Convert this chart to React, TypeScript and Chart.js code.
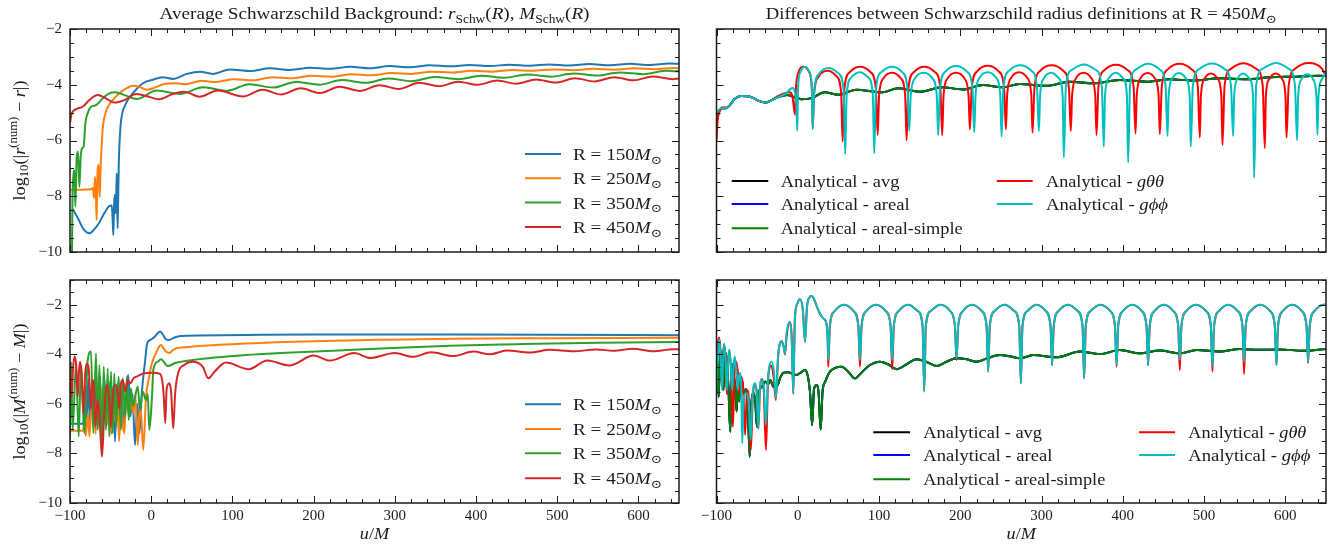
import React, { useEffect, useRef } from 'react';
import { Chart, registerables } from 'chart.js';
Chart.register(...registerables);

const W = 1336;
const H = 546;
const X_RANGE = [-100, 650];
const X_TICKS = [-100, 0, 100, 200, 300, 400, 500, 600];
const X_MINOR_STEP = 20;
const Y_TICKS = [-10, -8, -6, -4, -2];
const Y_MINOR_STEP = 0.5;
const Y_MIN = -10;
const Y_MAX_TOP = -2;
const Y_MAX_BOTTOM = -1;

const TAB = ['#1f77b4', '#ff7f0e', '#2ca02c', '#d62728'];
const RIGHT_COLORS = ['#000000', '#0000ff', '#008000', '#ff0000', '#00bfbf'];
const R_VALUES = ['150', '250', '350', '450'];
const METHODS = ['avg', 'areal', 'areal-simple', 'gθθ', 'gϕϕ'];

// ---------- top-left: log10(|r_num - r|) ----------
const TL_BLUE = [[-97,-8.45],[-90,-8.8],[-84,-9.15],[-76,-9.33],[-70,-9.18],[-64,-8.95],[-58,-8.62],[-52,-8.36],[-48.5,-8.33],[-47.4,-8.9],[-46.6,-9.39],[-45.7,-8.3],[-44.9,-7.95],[-44.2,-8.6],[-43.4,-8.5],[-42.5,-7.18],[-41.9,-8.2],[-41.3,-9.15],[-40.6,-8.0],[-39.9,-6.81],[-37.8,-5.5],[-35.5,-5.0],[-33,-4.79],[-28,-4.5],[-22.8,-4.31],[-15,-4.06],[-6.4,-3.89],[0.5,-3.83],[14,-3.73],[27,-3.79],[44,-3.61],[60,-3.53],[76,-3.61],[97,-3.45],[122,-3.51],[146,-3.41],[171,-3.47],[196,-3.39],[220,-3.43],[245,-3.35],[269,-3.41],[294,-3.33],[319,-3.37],[343,-3.3],[368,-3.34],[392,-3.29],[417,-3.33],[441,-3.28],[466,-3.32],[490,-3.27],[515,-3.31],[540,-3.26],[565,-3.3],[590,-3.25],[614,-3.29],[638,-3.24],[650,-3.25]];
const TL_ORANGE = [[-98.8,-7.78],[-90,-7.77],[-80,-7.76],[-73.5,-7.74],[-71.8,-7.7],[-70.4,-8.07],[-69.2,-7.3],[-68,-8.0],[-67.2,-8.85],[-66,-7.06],[-64.7,-6.88],[-63.5,-8.02],[-62.3,-7.0],[-59.8,-5.62],[-55.7,-4.97],[-51,-4.68],[-47.4,-4.55],[-42,-4.38],[-37,-4.25],[-30,-4.12],[-22.8,-4.04],[-14,-4.08],[-5,-4.18],[3,-4.12],[15,-3.98],[30,-3.95],[42,-3.98],[62,-3.86],[80,-3.9],[102,-3.8],[125,-3.84],[149,-3.73],[173,-3.77],[198,-3.68],[222,-3.71],[247,-3.62],[271,-3.66],[296,-3.58],[320,-3.61],[345,-3.53],[370,-3.56],[395,-3.5],[420,-3.53],[445,-3.47],[470,-3.5],[495,-3.45],[520,-3.48],[545,-3.43],[570,-3.46],[595,-3.41],[620,-3.44],[645,-3.4],[650,-3.41]];
const TL_GREEN = [[-97.6,-10.2],[-97,-8.2],[-95.9,-7.3],[-94.7,-7.06],[-93.4,-8.37],[-91.7,-6.58],[-90.1,-6.4],[-88.5,-7.66],[-86.8,-6.58],[-85.2,-6.28],[-83.2,-6.22],[-81.1,-5.38],[-78.2,-5.02],[-74.1,-4.79],[-68,-4.73],[-59.8,-4.49],[-51.6,-4.31],[-44.6,-4.27],[-32,-4.38],[-17.9,-4.51],[6.8,-4.21],[35.5,-4.33],[64,-4.09],[93,-4.22],[121,-3.98],[150,-4.1],[178,-3.9],[207,-4.0],[235,-3.83],[264,-3.93],[292,-3.78],[321,-3.87],[349,-3.72],[378,-3.8],[406,-3.68],[435,-3.75],[463,-3.63],[492,-3.71],[520,-3.6],[549,-3.67],[577,-3.56],[606,-3.62],[634,-3.5],[650,-3.52]];
const TL_RED = [[-100,-5.38],[-98.5,-5.1],[-96.7,-4.97],[-90.5,-4.85],[-84.4,-4.79],[-76.2,-4.55],[-65.9,-4.37],[-55.7,-4.49],[-45.4,-4.64],[-33.1,-4.55],[-18.7,-4.33],[-6.4,-4.4],[10,-4.52],[26.5,-4.33],[40.8,-4.25],[59.3,-4.43],[82,-4.21],[113,-4.42],[137,-4.18],[160,-4.35],[184,-4.13],[208,-4.3],[232,-4.07],[257,-4.22],[281,-4.02],[305,-4.15],[330,-3.93],[355,-4.05],[378,-3.89],[402,-4.0],[426,-3.85],[450,-3.96],[474,-3.81],[498,-3.92],[522,-3.77],[546,-3.88],[570,-3.73],[594,-3.84],[618,-3.7],[642,-3.8],[650,-3.78]];

// ---------- bottom-left: log10(|M_num - M|) ----------
const BL_BLUE = [[-100,-6.8],[-84,-6.8],[-82.5,-6.5],[-81,-5.3],[-79.5,-6.6],[-77.5,-5.0],[-75.5,-6.8],[-73,-5.1],[-71,-6.9],[-68.5,-5.0],[-66,-7.0],[-63,-4.9],[-60.5,-7.1],[-57.5,-5.0],[-55,-6.9],[-52,-5.1],[-49,-7.2],[-47,-5.3],[-44.6,-7.52],[-42,-5.2],[-39.5,-6.8],[-36.5,-5.5],[-33.5,-6.9],[-30.5,-5.3],[-28.2,-4.83],[-25.5,-6.5],[-23,-5.6],[-20,-7.66],[-17,-6.0],[-14.5,-7.2],[-11.7,-5.6],[-7.6,-4.3],[-5,-3.56],[-1,-3.42],[4,-3.3],[8,-3.15],[11,-3.08],[14,-3.18],[18,-3.39],[22,-3.42],[28,-3.33],[36,-3.26],[60,-3.24],[117,-3.22],[200,-3.2],[370,-3.2],[500,-3.21],[650,-3.23]];
const BL_ORANGE = [[-100,-7.08],[-84,-7.08],[-82,-6.6],[-80.5,-7.3],[-78,-6.4],[-76,-7.32],[-73,-5.7],[-70,-6.04],[-68.5,-7.2],[-66.5,-5.77],[-64.5,-6.6],[-62,-5.3],[-59.5,-7.0],[-57,-5.6],[-54.5,-6.8],[-52,-5.4],[-49.5,-7.2],[-47,-5.5],[-44.5,-6.7],[-42,-5.7],[-39.5,-7.5],[-37,-5.6],[-35,-6.8],[-33,-7.19],[-30.5,-5.4],[-27.5,-6.5],[-25,-5.8],[-22,-6.4],[-19.5,-5.6],[-16.6,-7.66],[-14,-6.1],[-12,-6.6],[-9.8,-7.86],[-6.4,-5.71],[-3,-5.0],[-0.2,-4.5],[3,-4.15],[5.9,-3.96],[9,-3.72],[12,-3.62],[15,-3.75],[18.2,-3.89],[22.3,-3.95],[26,-3.85],[30.5,-3.76],[45,-3.7],[59,-3.66],[117,-3.56],[200,-3.47],[290,-3.41],[370,-3.37],[500,-3.35],[650,-3.33]];
const BL_GREEN = [[-100,-7.4],[-98.8,-4.3],[-96.7,-7.05],[-92.6,-4.36],[-89.3,-7.32],[-86.5,-4.5],[-82.4,-7.19],[-78.2,-4.23],[-74.1,-3.89],[-71.3,-7.19],[-68,-3.96],[-65.9,-7.05],[-63.9,-4.43],[-60.6,-7.59],[-58.5,-4.5],[-55.7,-7.05],[-53.6,-4.57],[-51.6,-7.32],[-49.5,-4.7],[-47.4,-7.19],[-45.4,-4.77],[-43.3,-6.92],[-40.1,-4.9],[-37.2,-7.05],[-35.1,-4.97],[-31.9,-6.52],[-29.8,-4.9],[-27.7,-6.65],[-24.9,-5.37],[-22.8,-6.11],[-16.6,-5.3],[-13.8,-6.25],[-10.5,-5.5],[-6.4,-5.84],[-4.3,-5.6],[-2.3,-7.05],[1,-5.7],[2.6,-4.63],[8,-4.3],[12.1,-4.2],[20.3,-4.47],[30.5,-4.34],[51.1,-4.23],[117,-4.03],[160,-3.95],[224,-3.86],[290,-3.75],[368,-3.65],[450,-3.59],[550,-3.53],[650,-3.5]];
const BL_RED = [[-100,-4.36],[-99,-5.3],[-97.8,-5.71],[-96.5,-4.7],[-94.5,-4.09],[-92.5,-4.4],[-90.5,-5.71],[-89,-4.7],[-87.7,-4.3],[-85.8,-4.7],[-83.5,-6.38],[-81.5,-4.9],[-79.5,-4.36],[-77,-4.57],[-74.1,-6.22],[-72.1,-5.04],[-70.5,-5.3],[-68.8,-6.92],[-65.9,-5.84],[-63.9,-6.4],[-60.6,-8.13],[-57.8,-6.38],[-54.8,-5.24],[-51.6,-5.84],[-49.5,-6.92],[-47.4,-5.71],[-44.2,-5.24],[-41.5,-5.5],[-39.3,-6.18],[-37.2,-5.17],[-35.1,-5.04],[-31.9,-5.5],[-28.9,-5.04],[-26,-5.17],[-21.5,-4.95],[-17.9,-4.9],[-9.7,-4.77],[2.6,-4.74],[10.8,-4.79],[13.5,-5.04],[15.5,-5.71],[17.3,-6.78],[19,-5.4],[22.3,-5.17],[24.5,-5.5],[27.1,-6.99],[29.5,-5.57],[33,-4.77],[40.6,-4.43],[51,-4.3],[63.4,-4.5],[70.3,-4.97],[78,-4.7],[92,-4.33],[120,-4.6],[143,-4.25],[170,-4.45],[200,-4.05],[220,-4.25],[250,-3.95],[270,-4.15],[300,-3.95],[322,-4.1],[345,-3.92],[371.7,-4.07],[396.7,-3.89],[417,-4.0],[437.6,-3.85],[466.3,-3.93],[491,-3.82],[519.7,-3.88],[548.5,-3.8],[569,-3.86],[593.6,-3.77],[618.3,-3.88],[642.9,-3.79],[650,-3.8]];

// ---------- top-right: radius definitions ----------
const TR_SMOOTH = [[-100,-5.1],[-97,-4.92],[-93,-4.84],[-88,-4.84],[-84,-4.75],[-78,-4.52],[-70,-4.4],[-62,-4.41],[-55,-4.47],[-48,-4.58],[-40,-4.64],[-32,-4.55],[-23,-4.43],[-13,-4.37],[-4,-4.45],[5,-4.52],[17,-4.48],[33,-4.27],[50,-4.36],[72,-4.18],[103,-4.27],[124,-4.13],[150,-4.25],[178,-4.09],[203,-4.17],[228,-4.01],[252,-4.09],[273,-3.97],[306,-4.04],[335,-3.89],[363,-3.95],[396,-3.83],[429,-3.89],[458,-3.8],[486,-3.85],[519,-3.77],[552,-3.8],[581,-3.73],[614,-3.71],[642,-3.68],[650,-3.69]];
const TR_RED = [[-100,-6.0],[-98.6,-5.3],[-96,-4.95],[-93,-4.82],[-88,-4.82],[-84,-4.74],[-78,-4.52],[-70,-4.4],[-62,-4.41],[-55,-4.47],[-48,-4.58],[-40,-4.64],[-32,-4.55],[-24,-4.4],[-16,-4.3],[-10,-4.27],[-6.5,-4.42],
[-3.4,-5.08],[-2.3,-4.15],[1.0,-3.55],[7.5,-3.35],[14.0,-3.55],[17.3,-4.15],
[18.4,-5.56],[20.2,-4.3],[25.8,-3.7],[36.8,-3.5],[47.8,-3.7],[53.4,-4.3],
[55.2,-6.04],[57.4,-4.15],[63.8,-3.55],[76.8,-3.35],[89.7,-3.55],[96.1,-4.15],
[98.3,-5.8],[100.1,-4.37],[105.4,-3.77],[116.1,-3.57],[126.8,-3.77],[132.1,-4.37],
[133.9,-5.99],[136.1,-4.15],[142.7,-3.55],[155.8,-3.35],[168.9,-3.55],[175.5,-4.15],
[177.7,-5.8],[179.4,-4.37],[184.5,-3.77],[194.8,-3.57],[205.0,-3.77],[210.1,-4.37],
[211.8,-5.6],[214.0,-4.12],[220.7,-3.52],[234.0,-3.32],[247.2,-3.52],[253.9,-4.12],
[256.1,-5.6],[257.7,-4.35],[262.7,-3.75],[272.5,-3.55],[282.3,-3.75],[287.3,-4.35],
[288.9,-5.72],[291.3,-4.1],[298.3,-3.5],[312.5,-3.3],[326.6,-3.5],[333.6,-4.1],
[336.0,-5.66],[337.6,-4.37],[342.3,-3.77],[351.8,-3.57],[361.3,-3.77],[366.0,-4.37],
[367.6,-5.8],[370.0,-4.08],[377.2,-3.48],[391.6,-3.28],[406.0,-3.48],[413.2,-4.08],
[415.6,-5.75],[417.1,-4.38],[421.6,-3.78],[430.6,-3.58],[439.5,-3.78],[444.0,-4.38],
[445.5,-5.77],[448.0,-4.05],[455.3,-3.45],[470.1,-3.25],[484.9,-3.45],[492.2,-4.05],
[494.7,-5.89],[496.1,-4.4],[500.3,-3.8],[508.7,-3.6],[517.0,-3.8],[521.2,-4.4],
[522.6,-6.16],[525.2,-4.03],[533.0,-3.43],[548.7,-3.23],[564.3,-3.43],[572.1,-4.03],
[574.7,-6.28],[576.0,-4.4],[580.0,-3.8],[588.1,-3.6],[596.1,-3.8],[600.1,-4.4],
[601.4,-5.9],[604.1,-4.02],[612.3,-3.42],[628.7,-3.22],[645.0,-3.42],[650,-3.7]];
const TR_CYAN = [[-100,-5.05],[-97,-4.9],[-93,-4.84],[-88,-4.84],[-84,-4.75],[-78,-4.52],[-70,-4.4],[-62,-4.41],[-55,-4.47],[-48,-4.58],[-40,-4.64],[-32,-4.55],[-23,-4.43],[-14,-4.3],[-9,-4.15],[-6,-4.12],[-3.4,-4.3],[-1.7,-4.7],
[-0.6,-5.65],[0.3,-4.15],[3.2,-3.55],[8.9,-3.35],[14.5,-3.55],[17.4,-4.15],
[18.3,-5.6],[20.3,-4.2],[26.3,-3.6],[38.4,-3.4],[50.4,-3.6],[56.4,-4.2],
[58.4,-6.48],[60.2,-4.35],[65.5,-3.75],[76.3,-3.55],[87.0,-3.75],[92.3,-4.35],
[94.1,-6.46],[96.3,-4.15],[102.7,-3.55],[115.7,-3.35],[128.6,-3.55],[135.0,-4.15],
[137.2,-5.65],[139.0,-4.37],[144.3,-3.77],[155.0,-3.57],[165.7,-3.77],[171.0,-4.37],
[172.8,-5.8],[175.0,-4.13],[181.7,-3.53],[195.0,-3.33],[208.2,-3.53],[214.9,-4.13],
[217.1,-5.7],[218.8,-4.35],[223.8,-3.75],[234.0,-3.55],[244.1,-3.75],[249.1,-4.35],
[250.8,-5.86],[253.1,-4.1],[260.0,-3.5],[273.8,-3.3],[287.5,-3.5],[294.4,-4.1],
[296.7,-5.66],[298.2,-4.37],[302.8,-3.77],[312.1,-3.57],[321.3,-3.77],[325.9,-4.37],
[327.4,-6.61],[329.9,-4.07],[337.2,-3.47],[352.0,-3.27],[366.8,-3.47],[374.1,-4.07],
[376.6,-6.22],[378.1,-4.37],[382.6,-3.77],[391.6,-3.57],[400.5,-3.77],[405.0,-4.37],
[406.5,-6.79],[408.9,-4.05],[416.2,-3.45],[430.8,-3.25],[445.3,-3.45],[452.6,-4.05],
[455.0,-5.84],[456.4,-4.38],[460.7,-3.78],[469.3,-3.58],[477.9,-3.78],[482.2,-4.38],
[483.6,-6.22],[486.2,-4.04],[494.0,-3.44],[509.7,-3.24],[525.3,-3.44],[533.1,-4.04],
[535.7,-5.84],[537.0,-4.4],[540.9,-3.8],[548.6,-3.6],[556.3,-3.8],[560.2,-4.4],
[561.5,-7.33],[564.1,-4.02],[572.1,-3.42],[588.0,-3.22],[603.8,-3.42],[611.8,-4.02],
[614.4,-5.99],[615.7,-4.42],[619.4,-3.82],[627.0,-3.62],[634.5,-3.82],[638.2,-4.42],
[639.5,-5.8],[640.8,-4.4],[645,-3.8],[650,-3.57]];

// ---------- bottom-right: mass definitions ----------
const BR_SMOOTH = [[-100,-4.2],[-98.5,-4.6],[-97.3,-5.71],[-96,-4.3],[-94.5,-3.89],[-93,-4.3],[-91.5,-5.44],[-90,-4.2],[-88.5,-3.95],[-86.5,-4.6],[-85,-5.6],[-83,-7.12],[-81.5,-5.0],[-80,-4.4],[-78.5,-4.9],[-76.8,-5.4],[-75.2,-6.31],[-73.5,-5.0],[-72,-5.9],[-70.5,-5.0],[-68.5,-5.1],[-66.5,-5.6],[-64,-5.4],[-61.5,-6.0],[-59.2,-8.13],[-57,-6.0],[-54.5,-5.57],[-52.3,-5.9],[-50.2,-6.92],[-48,-5.6],[-44,-5.3],[-40,-5.1],[-36.5,-5.2],[-33.8,-5.04],[-30,-5.3],[-26,-5.3],[-21,-4.9],[-17.3,-4.74],[-11.5,-4.72],[-6,-4.8],[-1.4,-4.83],[3,-4.75],[8.9,-4.63],[12.5,-4.9],[15,-5.5],[17.7,-6.85],[20,-5.4],[23.2,-5.24],[25.5,-5.5],[28.2,-7.03],[30.5,-5.5],[33.8,-5.1],[39.6,-4.7],[46,-4.55],[54,-4.5],[62,-4.7],[70.4,-4.97],[78,-4.75],[88,-4.45],[101,-4.3],[111,-4.4],[121.6,-4.6],[134,-4.4],[146,-4.2],[158,-4.3],[170.8,-4.47],[183,-4.3],[195.4,-4.16],[208,-4.2],[220,-4.3],[234,-4.15],[248.7,-4.03],[261,-4.08],[273.3,-4.16],[289.7,-4.03],[318.5,-4.12],[347,-3.89],[371.7,-3.99],[396.3,-3.83],[421,-3.96],[445.5,-3.85],[470.1,-3.96],[490.7,-3.83],[519.3,-3.89],[543.9,-3.78],[568.5,-3.82],[593.1,-3.8],[621.8,-3.86],[650,-3.78]];
const BR_CYAN_EARLY = [[-100,-5.5],[-98.5,-4.2],[-96.6,-3.39],[-95,-4.0],[-93.2,-5.44],[-91.8,-4.1],[-90.4,-3.56],[-88.8,-4.2],[-87.1,-5.44],[-85.6,-4.3],[-84.2,-3.8],[-82.5,-4.4],[-80.9,-5.44],[-79.3,-4.6],[-77.6,-4.09],[-75.8,-4.6],[-73.9,-5.44],[-72.3,-4.9],[-70.8,-4.75],[-69.5,-5.4],[-68.3,-7.59],[-66.8,-5.9],[-64.8,-5.6],[-62.9,-5.57],[-60.5,-5.9],[-57.9,-7.46],[-55.5,-5.6],[-52.6,-5.17],[-50.5,-5.6],[-48.6,-6.99],[-46.6,-5.4],[-44.4,-5.04],[-41.7,-5.4],[-39.1,-6.85],[-36.5,-4.9],[-32.1,-4.3],[-29.3,-4.7],[-26.8,-5.77],[-24.3,-4.1],[-19.8,-3.49],[-17.4,-3.7],[-15.7,-3.96],[-14,-3.2],[-10.4,-2.72],[-7.5,-3.3],[-5.5,-5.57],[-3.6,-2.6],[-0.5,-1.95],[2.7,-1.78],[6.2,-2.2],[8.9,-3.49],[11.3,-2.1],[14,-1.72],[17.1,-1.65],[21,-1.85],[25,-2.2],[28,-2.4],[31.4,-2.55],[35.2,-2.75],[36.8,-3.4]];
const BR_RED_EARLY = [[-100,-4.5],[-98.5,-3.6],[-96.8,-3.32],[-95,-3.9],[-93.5,-5.3],[-92,-4.0],[-90.5,-3.6],[-88.9,-4.3],[-87.3,-5.6],[-85.7,-4.3],[-84.3,-3.85],[-82.2,-4.6],[-79.8,-6.92],[-77.5,-4.5],[-75.5,-4.3],[-73.5,-4.8],[-71.5,-5.6],[-69.5,-4.9],[-67.3,-5.3],[-64.8,-7.25],[-62.5,-5.44],[-60.2,-5.8],[-57.7,-7.86],[-55.3,-5.7],[-52.3,-5.24],[-50.3,-5.6],[-48.5,-7.0],[-46.5,-5.4],[-44.3,-5.0],[-41.8,-5.5],[-39.1,-7.86],[-36.5,-5.0],[-32.6,-4.45],[-29.8,-4.9],[-27,-5.85],[-24,-4.0],[-19.6,-3.47],[-17.3,-3.7],[-15.7,-4.0],[-13.5,-3.2],[-10,-2.7],[-7.5,-3.3],[-5.5,-5.6],[-3.6,-2.6],[-0.5,-1.95],[2.7,-1.78],[6.2,-2.2],[8.9,-3.5],[11.3,-2.1],[14,-1.72],[17.1,-1.65],[21,-1.85],[25,-2.2],[28,-2.4],[31.4,-2.55],[35.2,-2.75],[36.8,-3.4]];
const BR_ARCH_BODY = [[39.5,-2.85],[45.5,-2.25],[57,-2.0],[68.5,-2.25],[74.5,-2.85],
[78.5,-2.85],[84.5,-2.25],[96.4,-2.0],[108.2,-2.25],[114.2,-2.85],
[118.2,-2.85],[124.2,-2.25],[135.9,-2.0],[147.6,-2.25],[153.6,-2.85],
[157.6,-2.85],[163.6,-2.25],[175.5,-2.0],[187.4,-2.25],[193.4,-2.85],
[197.4,-2.85],[203.4,-2.25],[214.9,-2.0],[226.3,-2.25],[232.3,-2.85],
[236.3,-2.85],[242.3,-2.25],[254.4,-2.0],[266.5,-2.25],[272.5,-2.85],
[276.5,-2.85],[282.5,-2.25],[293.8,-2.0],[305,-2.25],[311,-2.85],
[315,-2.85],[321,-2.25],[332.7,-2.0],[344.4,-2.25],[350.4,-2.85],
[354.4,-2.85],[360.4,-2.25],[372.4,-2.0],[384.3,-2.25],[390.3,-2.85],
[394.3,-2.85],[400.3,-2.25],[411.7,-2.0],[423.1,-2.25],[429.1,-2.85],
[433.1,-2.85],[439.1,-2.25],[450.6,-2.0],[462.1,-2.25],[468.1,-2.85],
[472.1,-2.85],[478.1,-2.25],[490.2,-2.0],[502.3,-2.25],[508.3,-2.85],
[512.3,-2.85],[518.3,-2.25],[529.8,-2.0],[541.2,-2.25],[547.2,-2.85],
[551.2,-2.85],[557.2,-2.25],[569.1,-2.0],[581,-2.25],[587,-2.85],
[591,-2.85],[597,-2.25],[608.5,-2.0],[620,-2.25],[626,-2.85],
[630,-2.85],[636,-2.25],[647.5,-2.0],[650,-2.0]];
const BR_CYAN_DIPS = [[37.5,-4.23],[76.5,-4.23],[116.2,-4.23],[155.6,-5.5],[195.4,-4.16],[234.3,-4.7],[274.5,-5.17],[313,-4.43],[352.4,-4.97],[392.3,-4.43],[431.1,-4.43],[470.1,-4.23],[510.3,-4.5],[549.2,-4.3],[589,-4.43],[628,-4.3]];
const BR_RED_DIPS = [[37.5,-4.5],[76.5,-4.5],[116.2,-4.6],[155.6,-5.5],[195.4,-4.23],[234.3,-4.7],[274.5,-5.17],[313,-4.43],[352.4,-4.97],[392.3,-4.5],[431.1,-4.43],[470.1,-4.63],[510.3,-4.7],[549.2,-4.79],[589,-4.43],[628,-4.35]];

const byX = (a: number[], b: number[]) => a[0] - b[0];
const BR_CYAN = [...BR_CYAN_EARLY, ...BR_ARCH_BODY, ...BR_CYAN_DIPS].sort(byX);
const BR_RED = [...BR_RED_EARLY, ...BR_ARCH_BODY, ...BR_RED_DIPS].sort(byX);

// ---------- text helpers ----------
type Seg = { t: string; it?: boolean; sub?: boolean; sup?: boolean };
const SERIF = '"Liberation Serif", "DejaVu Serif", serif';
const INK = '#1a1a1a';
const TXT = 17;
const TICK_SIZE = 15;

function segFont(s: Seg, size: number) {
  const sz = s.sub || s.sup ? size * 0.7 : size;
  return `${s.it ? 'italic ' : ''}${sz}px ${SERIF}`;
}
function measureRich(ctx: CanvasRenderingContext2D, segs: Seg[], size: number) {
  let w = 0;
  for (const s of segs) { ctx.font = segFont(s, size); w += ctx.measureText(s.t).width; }
  return w;
}
function drawRich(ctx: CanvasRenderingContext2D, segs: Seg[], x: number, y: number, size: number,
  o: { align?: 'left' | 'center'; width?: number; sx?: number } = {}) {
  const nat = measureRich(ctx, segs, size);
  const sx = o.width ? o.width / nat : (o.sx ?? 1.07);
  const total = nat * sx;
  const start = o.align === 'center' ? x - total / 2 : x;
  ctx.save();
  ctx.translate(start, y);
  ctx.scale(sx, 1);
  ctx.fillStyle = INK;
  ctx.textAlign = 'left';
  ctx.textBaseline = 'alphabetic';
  let cx = 0;
  for (const s of segs) {
    ctx.font = segFont(s, size);
    const dy = s.sub ? size * 0.22 : s.sup ? -size * 0.42 : 0;
    ctx.fillText(s.t, cx, dy);
    cx += ctx.measureText(s.t).width;
  }
  ctx.restore();
}

const TITLE_LEFT: Seg[] = [{ t: 'Average Schwarzschild Background: ' }, { t: 'r', it: true }, { t: 'Schw', sub: true }, { t: '(' }, { t: 'R', it: true }, { t: '), ' }, { t: 'M', it: true }, { t: 'Schw', sub: true }, { t: '(' }, { t: 'R', it: true }, { t: ')' }];
const TITLE_RIGHT: Seg[] = [{ t: 'Differences between Schwarzschild radius definitions at R = 450' }, { t: 'M', it: true }, { t: '⊙', sub: true }];
const Y_TITLE_R: Seg[] = [{ t: 'log' }, { t: '10', sub: true }, { t: '(|' }, { t: 'r', it: true }, { t: '(num)', sup: true }, { t: ' − ' }, { t: 'r', it: true }, { t: '|)' }];
const Y_TITLE_M: Seg[] = [{ t: 'log' }, { t: '10', sub: true }, { t: '(|' }, { t: 'M', it: true }, { t: '(num)', sup: true }, { t: ' − ' }, { t: 'M', it: true }, { t: '|)' }];
const X_TITLE: Seg[] = [{ t: 'u', it: true }, { t: '/' }, { t: 'M', it: true }];

const rLabel = (r: string): Seg[] => [{ t: `R = ${r}` }, { t: 'M', it: true }, { t: '⊙', sub: true }];
const mLabel = (m: string): Seg[] => m.startsWith('g')
  ? [{ t: 'Analytical - ' }, { t: m, it: true }]
  : [{ t: `Analytical - ${m}` }];
const M_WIDTHS = [118.7, 129, 182, 118, 122];

type LegendEntry = { color: string; segs: Seg[]; x1: number; x2: number; tx: number; y: number; width: number };
type Panel = {
  key: string; area: { l: number; t: number; r: number; b: number }; yMax: number;
  xLabels: boolean; yLabels: boolean; series: { data: number[][]; color: string }[];
  title?: { segs: Seg[]; x: number; width: number };
  yTitle?: { segs: Seg[]; y: number };
  legend: LegendEntry[];
};

const leftLegend = (ys: number[]): LegendEntry[] => R_VALUES.map((r, i) => ({ color: TAB[i], segs: rLabel(r), x1: 525, x2: 561, tx: 573, y: ys[i], width: 89 }));
const rightLegend = (c1: number[], c2: number[], ys: number[]): LegendEntry[] => METHODS.map((m, i) => {
  const c = i < 3 ? c1 : c2;
  return { color: RIGHT_COLORS[i], segs: mLabel(m), x1: c[0], x2: c[1], tx: c[2], y: ys[i < 3 ? i : i - 3], width: M_WIDTHS[i] };
});

const PANELS: Panel[] = [
  {
    key: 'tl', area: { l: 70, t: 29, r: 679, b: 252 }, yMax: Y_MAX_TOP, xLabels: false, yLabels: true,
    series: [TL_BLUE, TL_ORANGE, TL_GREEN, TL_RED].map((d, i) => ({ data: d, color: TAB[i] })),
    title: { segs: TITLE_LEFT, x: 374.5, width: 430 },
    yTitle: { segs: Y_TITLE_R, y: 140.5 },
    legend: leftLegend([154, 178.3, 202.5, 227]),
  },
  {
    key: 'tr', area: { l: 716.5, t: 29, r: 1326, b: 252 }, yMax: Y_MAX_TOP, xLabels: false, yLabels: false,
    series: [TR_SMOOTH, TR_SMOOTH, TR_SMOOTH, TR_RED, TR_CYAN].map((d, i) => ({ data: d, color: RIGHT_COLORS[i] })),
    title: { segs: TITLE_RIGHT, x: 1021.25, width: 511 },
    legend: rightLegend([731.7, 768.3, 780.7], [996.7, 1032.7, 1046], [181, 204, 228.3]),
  },
  {
    key: 'bl', area: { l: 70, t: 280, r: 679, b: 503 }, yMax: Y_MAX_BOTTOM, xLabels: true, yLabels: true,
    series: [BL_BLUE, BL_ORANGE, BL_GREEN, BL_RED].map((d, i) => ({ data: d, color: TAB[i] })),
    yTitle: { segs: Y_TITLE_M, y: 391.5 },
    legend: leftLegend([404.3, 429, 453.3, 478.3]),
  },
  {
    key: 'br', area: { l: 716.5, t: 280, r: 1326, b: 503 }, yMax: Y_MAX_BOTTOM, xLabels: true, yLabels: false,
    series: [BR_SMOOTH, BR_SMOOTH, BR_SMOOTH, BR_RED, BR_CYAN].map((d, i) => ({ data: d, color: RIGHT_COLORS[i] })),
    legend: rightLegend([873.3, 910, 923.3], [1139, 1175, 1188.3], [432.3, 455, 479.3]),
  },
];

const fmt = (v: number | string) => {
  const n = Number(v);
  return n < 0 ? '−' + Math.abs(n) : String(n);
};

function decor(p: Panel) {
  return {
    id: 'decor_' + p.key,
    afterDraw(chart: any) {
      const { ctx, chartArea: a, scales } = chart;
      const xs = scales.x, ys = scales.y;
      ctx.save();
      ctx.strokeStyle = INK;
      ctx.lineWidth = 1;
      ctx.beginPath();
      for (let v = X_RANGE[0]; v <= X_RANGE[1] + 1e-6; v += X_MINOR_STEP) {
        const len = X_TICKS.includes(v) ? 7 : 4;
        const px = Math.round(xs.getPixelForValue(v)) + 0.5;
        ctx.moveTo(px, a.bottom); ctx.lineTo(px, a.bottom - len);
        ctx.moveTo(px, a.top); ctx.lineTo(px, a.top + len);
      }
      for (let v = Y_MIN; v <= p.yMax + 1e-6; v += Y_MINOR_STEP) {
        const len = Y_TICKS.includes(v) ? 7 : 4;
        const py = Math.round(ys.getPixelForValue(v)) + 0.5;
        ctx.moveTo(a.left, py); ctx.lineTo(a.left + len, py);
        ctx.moveTo(a.right, py); ctx.lineTo(a.right - len, py);
      }
      ctx.stroke();
      ctx.lineWidth = 1.5;
      ctx.strokeRect(a.left, a.top, a.right - a.left, a.bottom - a.top);

      if (p.title) drawRich(ctx, p.title.segs, p.title.x, 19, TXT, { align: 'center', width: p.title.width });
      if (p.yTitle) {
        ctx.save();
        ctx.translate(24.5, p.yTitle.y);
        ctx.rotate(-Math.PI / 2);
        drawRich(ctx, p.yTitle.segs, 0, 0, TXT, { align: 'center' });
        ctx.restore();
      }
      if (p.xLabels) drawRich(ctx, X_TITLE, (a.left + a.right) / 2, 539, TXT, { align: 'center' });

      for (const e of p.legend) {
        ctx.strokeStyle = e.color;
        ctx.lineWidth = 2;
        ctx.beginPath();
        ctx.moveTo(e.x1, e.y); ctx.lineTo(e.x2, e.y);
        ctx.stroke();
        drawRich(ctx, e.segs, e.tx, e.y + 6, TXT, { width: e.width });
      }
      ctx.restore();
    },
  };
}

function buildChart(canvas: HTMLCanvasElement, p: Panel) {
  const yW = p.yLabels ? 50 : 0;
  const xH = p.xLabels ? 24 : 0;
  const tickFont = { family: SERIF, size: TICK_SIZE };
  return new Chart(canvas, {
    type: 'line',
    data: {
      datasets: p.series.map((s, i) => ({
        data: s.data.map(([x, y]) => ({ x, y })),
        borderColor: s.color,
        backgroundColor: s.color,
        borderWidth: 2,
        pointRadius: 0,
        fill: false,
        cubicInterpolationMode: 'monotone' as const,
        borderJoinStyle: 'round' as const,
        order: p.series.length - i,
      })),
    },
    options: {
      responsive: false,
      animation: false,
      devicePixelRatio: 1,
      events: [],
      layout: { padding: { left: p.area.l - yW, top: p.area.t, right: W - p.area.r, bottom: H - p.area.b - xH } },
      plugins: { legend: { display: false }, tooltip: { enabled: false }, title: { display: false } },
      scales: {
        x: {
          type: 'linear', min: X_RANGE[0], max: X_RANGE[1],
          grid: { display: false, drawTicks: false }, border: { display: false },
          ticks: { display: p.xLabels, padding: 4, font: tickFont, color: INK, callback: fmt, autoSkip: false, maxRotation: 0 },
          afterBuildTicks: (s: any) => { s.ticks = X_TICKS.map((v) => ({ value: v })); },
          afterFit: (s: any) => { s.height = xH; },
        },
        y: {
          type: 'linear', min: Y_MIN, max: p.yMax,
          grid: { display: false, drawTicks: false }, border: { display: false },
          ticks: { display: p.yLabels, padding: 8, font: tickFont, color: INK, callback: fmt, autoSkip: false },
          afterBuildTicks: (s: any) => { s.ticks = Y_TICKS.map((v) => ({ value: v })); },
          afterFit: (s: any) => { s.width = yW; },
        },
      },
    } as any,
    plugins: [decor(p)],
  });
}

export default function App() {
  const refs = useRef<(HTMLCanvasElement | null)[]>([]);
  useEffect(() => {
    const charts = PANELS.map((p, i) => buildChart(refs.current[i]!, p));
    return () => charts.forEach((c) => c.destroy());
  }, []);
  return (
    <div style={{ position: 'absolute', left: 0, top: 0, width: W, height: H, background: '#fff', overflow: 'hidden' }}>
      {PANELS.map((p, i) => (
        <canvas key={p.key} ref={(el) => { refs.current[i] = el; }} width={W} height={H}
          style={{ position: 'absolute', left: 0, top: 0, width: W, height: H }} />
      ))}
    </div>
  );
}
